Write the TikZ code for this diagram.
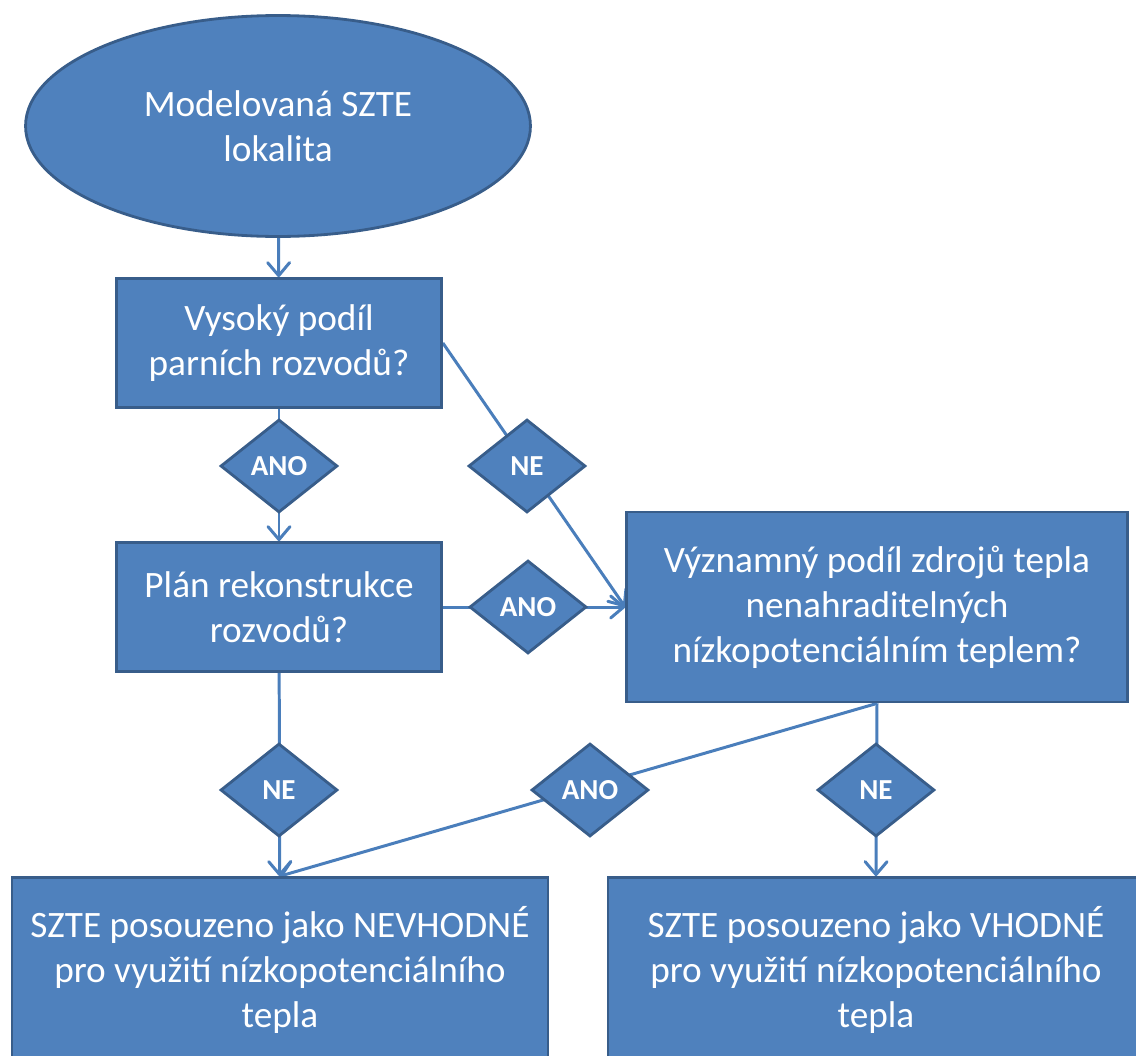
\documentclass[tikz,border=0pt]{standalone}
\usepackage{tikz}
\usetikzlibrary{shapes,shapes.geometric,arrows.meta,positioning,backgrounds}
\usepackage{fontspec}
\setmainfont{Carlito}
\definecolor{boxfill}{HTML}{4F81BD}
\definecolor{boxline}{HTML}{385D8A}
\definecolor{linkcol}{HTML}{4A7EBB}

\begin{document}
\begin{tikzpicture}[
  x=0.02cm, y=-0.02cm,
  box/.style={rectangle, draw=boxline, line width=1.6pt, fill=boxfill, text=white,
    align=center, font=\fontsize{21.2}{25.6}\selectfont, inner sep=0pt,
    minimum width=#1},
  start/.style={ellipse, draw=boxline, line width=1.6pt, fill=boxfill, text=white,
    align=center, font=\fontsize{21.2}{25.6}\selectfont,
    minimum width=10.1cm, minimum height=4.42cm},
  answer/.style={diamond, draw=boxline, line width=1.6pt, fill=boxfill, text=white,
    font=\fontsize{16.5}{18}\selectfont\bfseries, inner sep=0pt,
    minimum width=2.34cm, minimum height=1.86cm},
  arr/.style={-{Straight Barb[length=2.6mm,width=4.4mm,round]}, linkcol, line width=1.7pt}
]
  \useasboundingbox (0,0) rectangle (1136,1055);
  \clip (0,0) rectangle (1136,1055);

  \node[start] (site) at (278,126) {Modelovaná SZTE\\lokalita};
  \node[box=6.5cm, minimum height=2.58cm] (steam) at (279,343) {Vysoký podíl\\parních rozvodů?};
  \node[box=6.5cm, minimum height=2.58cm] (recon) at (279,607) {Plán rekonstrukce\\rozvodů?};
  \node[box=10.02cm, minimum height=3.8cm] (source) at (877,607)
    {Významný podíl zdrojů tepla\\nenahraditelných\\nízkopotenciálním teplem?};
  \node[box=10.72cm, minimum height=3.7cm] (unfit) at (280,970)
    {SZTE posouzeno jako NEVHODNÉ\\pro využití nízkopotenciálního\\tepla};
  \node[box=10.72cm, minimum height=3.7cm] (fit) at (876,970)
    {SZTE posouzeno jako VHODNÉ\\pro využití nízkopotenciálního\\tepla};

  \node[answer] (yes1) at (279,466) {ANO};
  \node[answer] (no1)  at (527,466) {NE};
  \node[answer] (yes2) at (528,607) {ANO};
  \node[answer] (no2)  at (279,790) {NE};
  \node[answer] (yes3) at (590,790) {ANO};
  \node[answer] (no3)  at (876,790) {NE};

  % connectors run under the answer diamonds
  \begin{scope}[on background layer]
    \draw[arr] (site) -- (steam);
    \draw[arr] (steam) -- (recon);
    \draw[arr] (steam.east) -- (source.west);
    \draw[arr] (recon.east) -- (source.west);
    \draw[arr] (recon) -- (unfit);
    \draw[arr] (source.south) -- (unfit.north);
    \draw[arr] (source.south) -- (fit.north);
  \end{scope}
\end{tikzpicture}
\end{document}
